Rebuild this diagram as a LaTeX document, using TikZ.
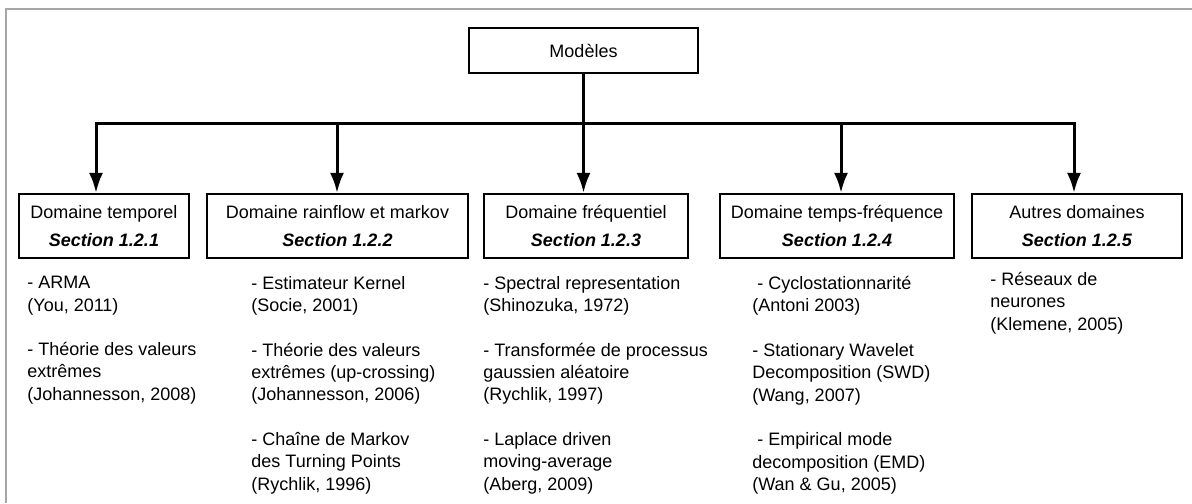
\documentclass[tikz,border=0pt]{standalone}
\usepackage{fontspec}
\setmainfont{Liberation Sans}
\usepackage{tikz}
\usetikzlibrary{arrows.meta}
\tikzset{topbox/.style={draw,line width=1pt,minimum width=114.5pt,minimum height=22.5pt,inner sep=0pt,font=\fontsize{9}{11}\selectfont},
 dombox/.style={draw,line width=1.1pt,minimum height=32pt,inner sep=0pt,align=center,font=\fontsize{9}{14}\selectfont},
 reflist/.style={anchor=north west,inner sep=0pt,align=left,font=\fontsize{9}{11.15}\selectfont},
 bus/.style={line width=1.5pt,line cap=rect},
 feed/.style={line width=1.5pt,-{Latex[length=10pt,width=7pt]}},
 frame/.style={draw=gray!70,line width=0.6pt},
 }

\begin{document}
\begin{tikzpicture}[x=0.5pt,y=-0.5pt]
        \useasboundingbox (0,0) rectangle (1192,503);
        \draw[frame] (6,503) -- (6,9) -- (1192,9);

        \node[topbox] (modeles) at (583.5,50.5) {Modèles};

        \node[dombox,minimum width=85pt] (temps) at (104,226) {Domaine temporel\\\textbf{\textit{Section 1.2.1}}};
        \node[dombox,minimum width=130.5pt] (rainflow) at (337.5,226) {Domaine rainflow et markov\\\textbf{\textit{Section 1.2.2}}};
        \node[dombox,minimum width=102pt] (freq) at (586,226) {Domaine fréquentiel\\\textbf{\textit{Section 1.2.3}}};
        \node[dombox,minimum width=117pt] (tempsfreq) at (837,226) {Domaine temps-fréquence\\\textbf{\textit{Section 1.2.4}}};
        \node[dombox,minimum width=105pt] (autres) at (1077,226) {Autres domaines\\\textbf{\textit{Section 1.2.5}}};

        \coordinate (busl) at (96,123);
        \coordinate (busb) at (337,123);
        \coordinate (busd) at (841,123);
        \coordinate (busr) at (1074,123);
        \draw[bus] (busl) -- (busr);
        \draw[feed] (modeles.south) -- (modeles.south |- freq.north);
        \draw[feed] (busl) -- (busl |- temps.north);
        \draw[feed] (busb) -- (busb |- rainflow.north);
        \draw[feed] (busd) -- (busd |- tempsfreq.north);
        \draw[feed] (busr) -- (busr |- autres.north);

        \node[reflist] (listtemps) at (27,276) {- ARMA\\(You, 2011)\\[11.15pt]- Théorie des valeurs\\extrêmes\\(Johannesson, 2008)};
        \node[reflist] (listrainflow) at (251,276) {- Estimateur Kernel\\(Socie, 2001)\\[11.15pt]- Théorie des valeurs\\extrêmes (up-crossing)\\(Johannesson, 2006)\\[11.15pt]- Chaîne de Markov\\des Turning Points\\(Rychlik, 1996)};
        \node[reflist] (listfreq) at (483,276) {- Spectral representation\\(Shinozuka, 1972)\\[11.15pt]- Transformée de processus\\gaussien aléatoire\\(Rychlik, 1997)\\[11.15pt]- Laplace driven\\moving-average\\(Aberg, 2009)};
        \node[reflist] (listtempsfreq) at (752,276) {\ - Cyclostationnarité\\(Antoni 2003)\\[11.15pt]- Stationary Wavelet\\Decomposition (SWD)\\(Wang, 2007)\\[11.15pt]\ - Empirical mode\\decomposition (EMD)\\(Wan \& Gu, 2005)};
        \node[reflist] (listautres) at (990,272) {- Réseaux de\\neurones\\(Klemene, 2005)};
    \end{tikzpicture}
\end{document}
